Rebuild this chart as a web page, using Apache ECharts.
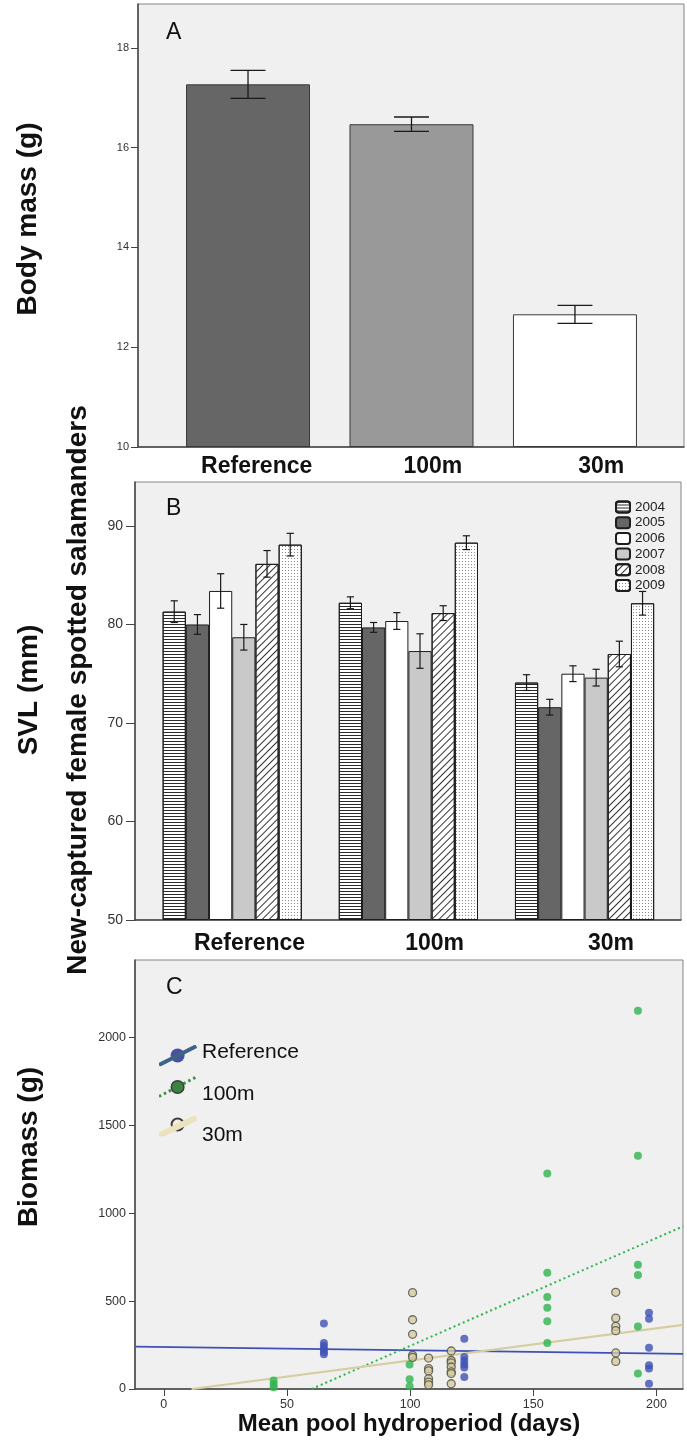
<!DOCTYPE html>
<html><head><meta charset="utf-8">
<script src="https://cdn.jsdelivr.net/npm/echarts@6/dist/echarts.min.js"></script>
<style>html,body{margin:0;padding:0;background:#fff}#c{width:687px;height:1443px}</style>
</head><body><div id="c"></div>
<script>
// ---------- data ----------
const categories = ['Reference', '100m', '30m'];
const massMean = [17.27, 16.47, 12.66];
const massErr = [0.28, 0.145, 0.18];
const massTicks = [10, 12, 14, 16, 18];

const years = ['2004', '2005', '2006', '2007', '2008', '2009'];
const svl2004 = [81.3, 82.2, 74.1];
const svl2005 = [80.0, 79.7, 71.6];
const svl2006 = [83.4, 80.35, 75.0];
const svl2007 = [78.7, 77.3, 74.6];
const svl2008 = [86.15, 81.15, 77.0];
const svl2009 = [88.1, 88.3, 82.15];
const se2004 = [1.1, 0.6, 0.8];
const se2005 = [1.0, 0.5, 0.8];
const se2006 = [1.75, 0.85, 0.8];
const se2007 = [1.3, 1.75, 0.85];
const se2008 = [1.35, 0.75, 1.3];
const se2009 = [1.15, 0.7, 1.2];
const svlTicks = [50, 60, 70, 80, 90];

const groupsC = ['Reference', '100m', '30m'];
const refPts = [[65,372],[65,262],[65,245],[65,228],[65,212],[65,198],
  [122,286],[122,182],[122,160],[122,140],[122,122],[122,68],
  [197,434],[197,400],[197,235],[197,135],[197,116],[197,30]];
const m100Pts = [[44.6,48],[44.6,28],[44.6,10],[99.8,140],[99.8,55],[99.8,15],
  [155.7,1225],[155.7,661],[155.7,523],[155.7,462],[155.7,385],[155.7,261],
  [192.5,2152],[192.5,1326],[192.5,707],[192.5,648],[192.5,355],[192.5,88]];
const m30Pts = [[101,548],[101,394],[101,311],[101,192],[101,180],
  [107.5,176],[107.5,116],[107.5,103],[107.5,58],[107.5,39],[107.5,24],
  [116.7,216],[116.7,162],[116.7,149],[116.7,125],[116.7,97],[116.7,88],[116.7,30],
  [183.5,550],[183.5,403],[183.5,356],[183.5,332],[183.5,205],[183.5,157]];
const refFit = [[-11.7, 240.7], [210.8, 199.4]];
const m100Fit = [[60, 0], [210.8, 925]];
const m30Fit = [[11.3, 0], [210.8, 364.6]];
const biomassTicks = [0, 500, 1000, 1500, 2000];
const hydroTicks = [0, 50, 100, 150, 200];

// ---------- styling ----------
const FONT = '"Liberation Sans", Arial, Helvetica, sans-serif';
const svlByYear = [svl2004, svl2005, svl2006, svl2007, svl2008, svl2009];
const seByYear = [se2004, se2005, se2006, se2007, se2008, se2009];
const fills = ['#ffffff', '#666666', '#ffffff', '#c9c9c9', '#ffffff', '#ffffff'];
const decals = [
  {symbol: 'rect', symbolSize: 1, dashArrayX: [1, 0], dashArrayY: [1, 2], color: '#2a2a2a', rotation: 0},
  null, null, null,
  {symbol: 'rect', symbolSize: 1, dashArrayX: [1, 0], dashArrayY: [1, 3.4], color: '#333333', rotation: -Math.PI / 4},
  {symbol: 'rect', symbolSize: 1, dashArrayX: [1, 1.5], dashArrayY: [1, 1.5], color: '#8a8a8a', rotation: 0}
];
const frame = {show: true, backgroundColor: '#f0f0f0', borderColor: '#858585', borderWidth: 1};
const axisLineStyle = {color: '#444', width: 1.5};
const yNameStyle = (pad) => ({fontFamily: FONT, fontSize: 28, fontWeight: 'bold', color: '#111', padding: [0, 0, 0, pad]});
const plain = v => String(v);

function errBar(halfCap, step, mid, lw) {
  return function (params, api) {
    const x = api.value(0), k = api.value(1);
    const lo = api.coord([x, api.value(2)]);
    const hi = api.coord([x, api.value(3)]);
    const cx = lo[0] + (k - mid) * step;
    const st = {stroke: '#1a1a1a', lineWidth: lw};
    return {type: 'group', children: [
      {type: 'line', shape: {x1: cx, y1: lo[1], x2: cx, y2: hi[1]}, style: st},
      {type: 'line', shape: {x1: cx - halfCap, y1: lo[1], x2: cx + halfCap, y2: lo[1]}, style: st},
      {type: 'line', shape: {x1: cx - halfCap, y1: hi[1], x2: cx + halfCap, y2: hi[1]}, style: st}
    ]};
  };
}

function svgIcon(body) {
  return 'image://data:image/svg+xml;charset=utf-8,' + encodeURIComponent(
    "<svg xmlns='http://www.w3.org/2000/svg' width='38' height='22' viewBox='0 0 38 22'>" + body + "</svg>");
}
const iconRef = svgIcon("<circle cx='18.6' cy='11' r='7' fill='#1c2a8c'/><line x1='0' y1='20.4' x2='37.3' y2='1.7' stroke='#12406f' stroke-width='4'/>");
const icon100 = svgIcon("<line x1='0' y1='20.4' x2='37.3' y2='1' stroke='#127a1d' stroke-width='3' stroke-dasharray='2.5,3'/><circle cx='18.6' cy='11' r='6.3' fill='#0d6a16' stroke='#111' stroke-width='1.5'/>");
const icon30 = svgIcon("<circle cx='18.6' cy='10' r='6' fill='#f4eed8' stroke='#111' stroke-width='2'/><line x1='0' y1='21' x2='37.3' y2='3.3' stroke='#ecdfb5' stroke-width='6'/>");

const series = [];
// Panel A
series.push({
  type: 'bar', name: 'Body mass', xAxisIndex: 0, yAxisIndex: 0, barWidth: 124, clip: true,
  data: massMean.map((v, i) => ({value: [i, v], itemStyle: {color: ['#666666', '#999999', '#ffffff'][i]}})),
  itemStyle: {borderColor: '#3a3a3a', borderWidth: 1}
});
series.push({
  type: 'custom', xAxisIndex: 0, yAxisIndex: 0, z: 5, silent: true, clip: false,
  encode: {x: 0, y: [2, 3]},
  data: massMean.map((v, i) => [i, 0, v - massErr[i], v + massErr[i]]),
  renderItem: errBar(17.5, 0, 0, 1.3)
});
// Panel B
years.forEach((y, j) => {
  const it = {color: fills[j], borderColor: '#1e1e1e', borderWidth: 1};
  if (decals[j]) it.decal = decals[j];
  series.push({
    type: 'bar', name: y, xAxisIndex: 1, yAxisIndex: 1, barWidth: 23.2, barGap: '0%', clip: true,
    data: svlByYear[j].map((v, i) => [i, v]), itemStyle: it
  });
});
const errB = [];
years.forEach((y, j) => svlByYear[j].forEach((v, i) => errB.push([i, j, v - seByYear[j][i], v + seByYear[j][i]])));
series.push({
  type: 'custom', xAxisIndex: 1, yAxisIndex: 1, z: 5, silent: true, clip: false,
  encode: {x: 0, y: [2, 3]}, data: errB, renderItem: errBar(3.6, 23.2, 2.5, 1.2)
});
// Panel C
const fitStyle = [
  {color: '#3f51b5', width: 1.8, type: 'solid'},
  {color: '#2db34b', width: 2, type: [2, 3]},
  {color: '#d6cea2', width: 2.2, type: 'solid'}
];
[refFit, m100Fit, m30Fit].forEach((f, k) => series.push({
  type: 'line', name: groupsC[k] + ' fit', xAxisIndex: 2, yAxisIndex: 2, data: f,
  showSymbol: false, silent: true, z: 2, lineStyle: fitStyle[k]
}));
const ptStyle = [
  {color: '#3f52b4'},
  {color: '#2eb44c'},
  {color: '#d4caa0', borderColor: '#4f4f45', borderWidth: 1.3}
];
[refPts, m100Pts, m30Pts].forEach((p, k) => series.push({
  type: 'scatter', name: groupsC[k], xAxisIndex: 2, yAxisIndex: 2, data: p,
  symbolSize: 8, clip: false, z: 3, itemStyle: ptStyle[k]
}));

const option = {
  animation: false,
  backgroundColor: '#ffffff',
  textStyle: {fontFamily: FONT},
  title: [
    {text: 'A', left: 166, top: 21, padding: 0, textStyle: {fontFamily: FONT, fontSize: 23, fontWeight: 'normal', color: '#111'}},
    {text: 'B', left: 166, top: 497, padding: 0, textStyle: {fontFamily: FONT, fontSize: 23, fontWeight: 'normal', color: '#111'}},
    {text: 'C', left: 166, top: 976, padding: 0, textStyle: {fontFamily: FONT, fontSize: 23, fontWeight: 'normal', color: '#111'}}
  ],
  grid: [
    Object.assign({left: 138, top: 4, width: 546, height: 443}, frame),
    Object.assign({left: 135, top: 482, width: 546, height: 438}, frame),
    Object.assign({left: 135, top: 960, width: 548, height: 429}, frame)
  ],
  legend: [
    {data: years, left: 615, top: 500, orient: 'vertical', itemWidth: 14, itemHeight: 11, itemGap: 1.7,
     padding: 0, selectedMode: false, textStyle: {fontFamily: FONT, fontSize: 13.5, color: '#222'}},
    {data: [{name: 'Reference', icon: iconRef}, {name: '100m', icon: icon100}, {name: '30m', icon: icon30}],
     left: 159, top: 1042, orient: 'vertical', itemWidth: 38, itemHeight: 22, itemGap: 9.5, padding: 0,
     selectedMode: false,
     formatter: n => n === 'Reference' ? '{a|' + n + '}' : (n === '100m' ? '{b|' + n + '}' : '{c|' + n + '}'),
     textStyle: {fontFamily: FONT, fontSize: 21, color: '#111', rich: {
       a: {fontFamily: FONT, fontSize: 21, color: '#111', padding: [0, 0, 6, 0]},
       b: {fontFamily: FONT, fontSize: 21, color: '#111', padding: [15, 0, 0, 0]},
       c: {fontFamily: FONT, fontSize: 21, color: '#111', padding: [19, 0, 0, 0]}
     }}}
  ],
  xAxis: [
    {gridIndex: 0, type: 'value', min: -0.673, max: 2.667, splitLine: {show: false},
     axisLine: {show: true, onZero: false, lineStyle: axisLineStyle}, axisTick: {show: false},
     axisLabel: {customValues: [0.053, 1.131, 2.161], formatter: v => categories[Math.round(v)],
       margin: 8, fontFamily: FONT, fontSize: 23, fontWeight: 'bold', color: '#111'}},
    {gridIndex: 1, type: 'value', min: -0.552, max: 2.5475, splitLine: {show: false},
     axisLine: {show: true, onZero: false, lineStyle: axisLineStyle}, axisTick: {show: false},
     axisLabel: {customValues: [0.098, 1.149, 2.150], formatter: v => categories[Math.round(v)],
       margin: 12, fontFamily: FONT, fontSize: 23, fontWeight: 'bold', color: '#111'}},
    {gridIndex: 2, type: 'value', min: -11.7, max: 210.8, splitLine: {show: false},
     axisLine: {show: true, onZero: false, lineStyle: axisLineStyle},
     axisTick: {show: true, length: 7, customValues: hydroTicks, lineStyle: {color: '#444'}},
     axisLabel: {customValues: hydroTicks, formatter: plain, margin: 9, fontFamily: FONT, fontSize: 12.5, color: '#333'},
     name: 'Mean pool hydroperiod (days)', nameLocation: 'middle', nameGap: 22,
     nameTextStyle: {fontFamily: FONT, fontSize: 24, fontWeight: 'bold', color: '#111'}}
  ],
  yAxis: [
    {gridIndex: 0, type: 'value', min: 10, max: 18.88, startValue: 10, splitLine: {show: false},
     axisLine: {show: true, onZero: false, lineStyle: axisLineStyle},
     axisTick: {show: true, length: 7, customValues: massTicks, lineStyle: {color: '#444'}},
     axisLabel: {customValues: massTicks, formatter: plain, margin: 9, fontFamily: FONT, fontSize: 11, color: '#333'},
     name: 'Body mass (g)', nameLocation: 'middle', nameGap: 96, nameTextStyle: yNameStyle(13)},
    {gridIndex: 1, type: 'value', min: 50, max: 94.46, startValue: 50, splitLine: {show: false},
     axisLine: {show: true, onZero: false, lineStyle: axisLineStyle},
     axisTick: {show: true, length: 9, customValues: svlTicks, lineStyle: {color: '#444'}},
     axisLabel: {customValues: svlTicks, formatter: plain, margin: 12, fontFamily: FONT, fontSize: 14, color: '#333'},
     name: 'SVL (mm)', nameLocation: 'middle', nameGap: 92, nameTextStyle: yNameStyle(22)},
    {gridIndex: 2, type: 'value', min: 0, max: 2440, splitLine: {show: false},
     axisLine: {show: true, onZero: false, lineStyle: axisLineStyle},
     axisTick: {show: true, length: 6, customValues: biomassTicks, lineStyle: {color: '#444'}},
     axisLabel: {customValues: biomassTicks, formatter: plain, margin: 9, fontFamily: FONT, fontSize: 12.5, color: '#333'},
     name: 'Biomass (g)', nameLocation: 'middle', nameGap: 92, nameTextStyle: yNameStyle(55)},
    {gridIndex: 1, type: 'value', min: 0, max: 1, position: 'left', splitLine: {show: false},
     axisLine: {show: false}, axisTick: {show: false}, axisLabel: {show: false},
     name: 'New-captured female spotted salamanders', nameLocation: 'middle', nameGap: 43,
     nameTextStyle: yNameStyle(22)}
  ],
  series: series
};
const chart = echarts.init(document.getElementById('c'), null, {renderer: 'canvas'});
chart.setOption(option);
</script>
</body></html>
